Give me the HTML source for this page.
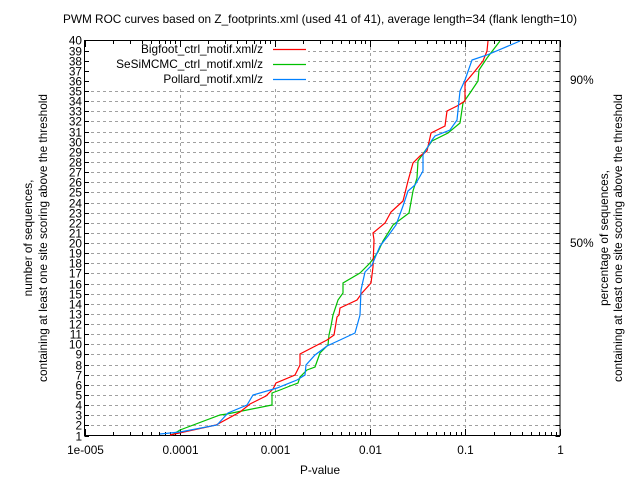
<!DOCTYPE html>
<html><head><style>body{margin:0;background:#fff}svg{display:block}text{font-family:"Liberation Sans",sans-serif;font-size:11.8px;fill:#000}</style></head>
<body>
<svg width="640" height="480" viewBox="0 0 640 480" xmlns="http://www.w3.org/2000/svg">
<g id="grid" stroke="#a0a0a0" stroke-dasharray="3,3" stroke-width="1"></g>
<rect x="86" y="42" width="222" height="46" fill="#fff"/>
<g id="ticks" stroke="#000" stroke-width="1"></g>
<rect x="84.5" y="40.5" width="475.5" height="395" fill="none" stroke="#000"/>
<g id="labels"></g>
<text x="320" y="23" text-anchor="middle">PWM ROC curves based on Z_footprints.xml (used 41 of 41), average length=34 (flank length=10)</text>
<text x="320" y="474" text-anchor="middle">P-value</text>
<text transform="translate(32,238) rotate(-90)" text-anchor="middle">number of sequences,</text>
<text transform="translate(47,238) rotate(-90)" text-anchor="middle">containing at least one site scoring above the threshold</text>
<text transform="translate(608,238) rotate(-90)" text-anchor="middle">percentage of sequences,</text>
<text transform="translate(622,238) rotate(-90)" text-anchor="middle">containing at least one site scoring above the threshold</text>
<text x="570" y="84">90%</text>
<text x="570" y="247">50%</text>
<text x="263" y="53" text-anchor="end">Bigfoot_ctrl_motif.xml/z</text>
<text x="263" y="68" text-anchor="end">SeSiMCMC_ctrl_motif.xml/z</text>
<text x="263" y="83" text-anchor="end">Pollard_motif.xml/z</text>
<line x1="273" y1="49.5" x2="306" y2="49.5" stroke="#ff0000" stroke-width="1.3"/>
<line x1="273" y1="64.5" x2="306" y2="64.5" stroke="#00c000" stroke-width="1.3"/>
<line x1="273" y1="79.5" x2="306" y2="79.5" stroke="#0080ff" stroke-width="1.3"/>
<g fill="none" stroke-width="1.2">
<polyline stroke="#00c000" points="172,435 180,430 220,415 227,414 247,410 272,405 272,393 280,390 290,386 298,383 300,377 307,370 315,367 320,353 328,345 329,335 331,326 333,315 338,300 343,293 343,283 360,273 370,263 378,252 383,241 393,225 409,213 413,191 417,178 418,161 425,151 432,141 448,133 460,123 463,103 470,93 478,81 479,70 487,58 500,41"/>
<polyline stroke="#ff0000" points="170,435 216,425 240,412 250,404 266,396 273,389 276,383 295,375 300,365 300,354 327,340 334,335 337,317 339,315 340,308 357,300 362,293 371,283 373,267 374,240 373,233 385,223 391,212 403,201 408,181 413,163 420,156 427,151 431,133 445,126 447,111 457,106 465,101 465,83 475,71 483,61 487,51 488,41"/>
<polyline stroke="#0080ff" points="160,434 180,432 217,425 228,413 247,405 253,395 277,388 297,380 305,375 306,365 315,355 327,346 340,340 355,333 360,315 361,290 365,272 372,265 380,246 388,236 396,225 403,206 408,191 415,185 423,171 423,155 432,140 435,136 450,130 457,120 460,91 465,80 472,60 487,55 520,41"/>
</g>
<script>
var g=document.getElementById('grid'),t=document.getElementById('ticks'),l=document.getElementById('labels'),ns='http://www.w3.org/2000/svg';
function el(p,n,a,txt){var e=document.createElementNS(ns,n);for(var k in a)e.setAttribute(k,a[k]);if(txt)e.textContent=txt;p.appendChild(e);}
for(var n=1;n<=40;n++){var y=435.5-(n-1)*10.13;y=Math.round(y)+0.5;
 if(n>1&&n<40)el(g,'line',{x1:85,y1:y,x2:560,y2:y});
 el(t,'line',{x1:84.5,y1:y,x2:89,y2:y});el(t,'line',{x1:560,y1:y,x2:555.5,y2:y});
 el(l,'text',{x:82,y:y+4,'text-anchor':'end'},String(n));}
var lab=['1e-005','0.0001','0.001','0.01','0.1','1'];
for(var d=0;d<=5;d++){var x=84.5+d*95.1;x=Math.round(x)+0.5;
 if(d>0&&d<5)el(g,'line',{x1:x,y1:41,x2:x,y2:435});
 el(t,'line',{x1:x,y1:435.5,x2:x,y2:429});el(t,'line',{x1:x,y1:40.5,x2:x,y2:47});
 el(l,'text',{x:x,y:454,'text-anchor':'middle'},lab[d]);
 if(d<5)for(var m=2;m<=9;m++){var xm=Math.round(84.5+(d+Math.log10(m))*95.1)+0.5;
  el(t,'line',{x1:xm,y1:435.5,x2:xm,y2:432});el(t,'line',{x1:xm,y1:40.5,x2:xm,y2:44});}}
</script>
</svg>
</body></html>
